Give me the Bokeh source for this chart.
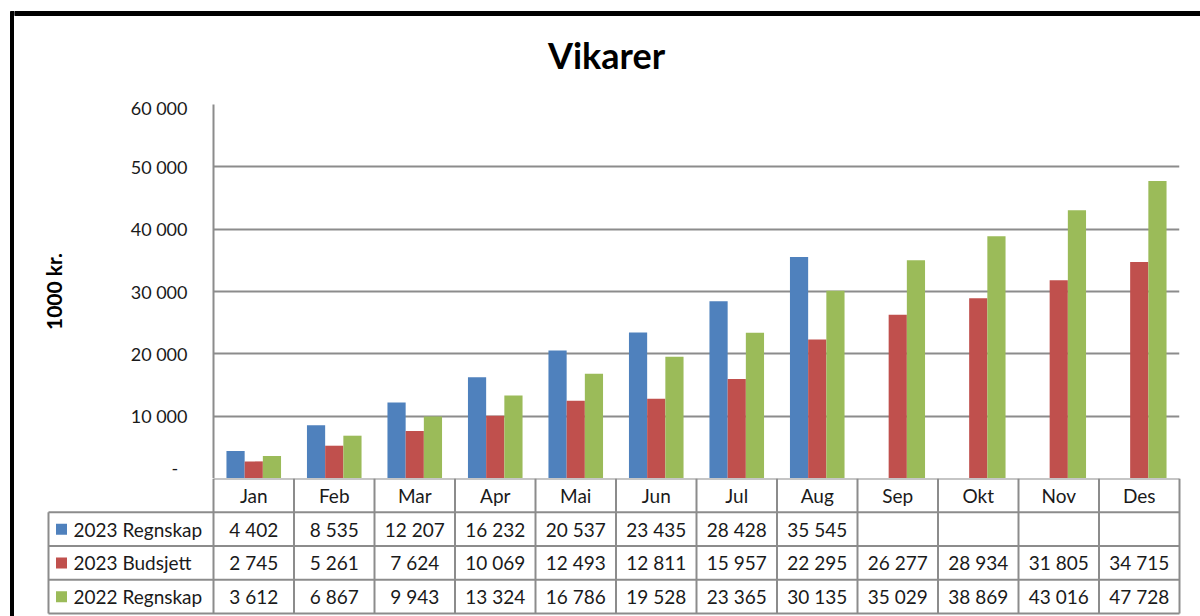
from bokeh.plotting import figure
from bokeh.layouts import row, column
from bokeh.models import Range1d, FixedTicker
from bokeh.core.properties import value
from bokeh.embed import file_html
from bokeh.resources import INLINE

# ---------------- data ----------------
title_text = "Vikarer"
y_axis_title = "1000 kr."
months = ["Jan", "Feb", "Mar", "Apr", "Mai", "Jun", "Jul", "Aug", "Sep", "Okt", "Nov", "Des"]
series_names = ["2023 Regnskap", "2023 Budsjett", "2022 Regnskap"]
regnskap_2023 = [4402, 8535, 12207, 16232, 20537, 23435, 28428, 35545, None, None, None, None]
budsjett_2023 = [2745, 5261, 7624, 10069, 12493, 12811, 15957, 22295, 26277, 28934, 31805, 34715]
regnskap_2022 = [3612, 6867, 9943, 13324, 16786, 19528, 23365, 30135, 35029, 38869, 43016, 47728]
y_ticks = [0, 10000, 20000, 30000, 40000, 50000, 60000]
y_tick_labels = ["-\u00a0\u00a0", "10 000", "20 000", "30 000", "40 000", "50 000", "60 000"]
colors = ["#4F81BD", "#C0504D", "#9BBB59"]

# ---------------- layout constants (pixels) ----------------
FONT = "Lato"
GRID = "#8c8c8c"
TOTAL_W = 1200
TOTAL_H = 616
STRIP_W = 14
MAIN_W = TOTAL_W - STRIP_W          # 1186
TITLE_H = 96
CHART_H = 382
TABLE_H = TOTAL_H - TITLE_H - CHART_H  # 138
CH_LEFT = 199
CH_RIGHT = 21
CH_TOP = 8
FRAME_W = MAIN_W - CH_LEFT - CH_RIGHT  # 966
N = len(months)
UNIT = FRAME_W / N
BAR_W = 0.226
ROW_PX = 33.75
LEG_LEFT_PX = 34      # legend column left edge, relative to main column
LEG_SQ_PX = 47
LEG_TXT_PX = 59
TXT = "19px"


def px_to_cat(px):
    """main-column pixel -> category units"""
    return (px - CH_LEFT) / UNIT


def no_align(fig):
    if "frame_align" in fig.properties():
        fig.frame_align = False
    return fig


# ---------------- left border strip ----------------
strip = figure(width=STRIP_W, height=TOTAL_H, output_backend="svg", toolbar_location=None,
               x_axis_location=None, y_axis_location=None, min_border=0,
               x_range=Range1d(0, STRIP_W), y_range=Range1d(TOTAL_H, 0))
no_align(strip)
strip.outline_line_color = None
strip.grid.visible = False
strip.quad(left=[10], right=[STRIP_W], top=[11], bottom=[TOTAL_H], color="black")

# ---------------- title ----------------
pt = figure(width=MAIN_W, height=TITLE_H, output_backend="svg", toolbar_location=None,
            x_axis_location=None, y_axis_location=None, min_border=0,
            x_range=Range1d(0, MAIN_W), y_range=Range1d(TITLE_H, 0))
no_align(pt)
pt.outline_line_color = None
pt.grid.visible = False
pt.quad(left=[0], right=[MAIN_W], top=[11], bottom=[15], color="black")
pt.text(x=[592], y=[54], text=[title_text], text_font=value(FONT), text_font_size="36px",
        text_font_style="bold", text_align="center", text_baseline="middle", text_color="black")

# ---------------- chart ----------------
p = figure(width=MAIN_W, height=CHART_H, output_backend="svg", toolbar_location=None,
           x_axis_location=None, y_axis_location="left",
           min_border_left=CH_LEFT, min_border_right=CH_RIGHT, min_border_top=CH_TOP,
           min_border_bottom=0,
           x_range=Range1d(0, N), y_range=Range1d(0, 60000))
no_align(p)
p.outline_line_color = None
p.xgrid.visible = False
p.ygrid.grid_line_color = GRID
p.ygrid.grid_line_width = 2
p.ygrid.ticker = FixedTicker(ticks=y_ticks)

yax = p.yaxis[0]
yax.ticker = FixedTicker(ticks=y_ticks)
yax.major_label_overrides = {t: l for t, l in zip(y_ticks, y_tick_labels)}
yax.major_label_text_font = FONT
yax.major_label_text_font_size = "18px"
yax.major_label_text_color = "#1a1a1a"
yax.major_tick_line_color = None
yax.minor_tick_line_color = None
yax.major_tick_out = 0
yax.major_tick_in = 0
yax.major_label_standoff = 26
yax.axis_line_color = GRID
yax.axis_line_width = 2
yax.axis_label = y_axis_title
yax.axis_label_text_font = FONT
yax.axis_label_text_font_size = "21px"
yax.axis_label_text_font_style = "bold"
yax.axis_label_text_color = "black"
yax.axis_label_standoff = 62

all_series = [regnskap_2023, budsjett_2023, regnskap_2022]
offsets = [-1, 0, 1]
for vals, col, off in zip(all_series, colors, offsets):
    xs = [i + 0.5 + off * BAR_W for i, v in enumerate(vals) if v is not None]
    tops = [v for v in vals if v is not None]
    p.vbar(x=xs, top=tops, bottom=0, width=BAR_W, fill_color=col, line_color=None)

# ---------------- data table ----------------
x_start = px_to_cat(0)
x_end = px_to_cat(MAIN_W)
tb = figure(width=MAIN_W, height=TABLE_H, output_backend="svg", toolbar_location=None,
            x_axis_location=None, y_axis_location=None, min_border=0,
            x_range=Range1d(x_start, x_end), y_range=Range1d(TABLE_H / ROW_PX, 0))
no_align(tb)
tb.outline_line_color = None
tb.grid.visible = False
leg_left = px_to_cat(LEG_LEFT_PX)

# horizontal lines
hx0 = [0] + [leg_left] * 4
hx1 = [N] * 5
hy = [0, 1, 2, 3, 4]
tb.segment(x0=hx0, y0=hy, x1=hx1, y1=hy, line_color=GRID, line_width=2)
# vertical lines
vx = list(range(N + 1)) + [leg_left]
vy0 = [0] * (N + 1) + [1]
vy1 = [4] * (N + 2)
tb.segment(x0=vx, y0=vy0, x1=vx, y1=vy1, line_color=GRID, line_width=2)

# header
tb.text(x=[i + 0.5 for i in range(N)], y=[0.5] * N, text=months, text_font=value(FONT),
        text_font_size=TXT, text_align="center", text_baseline="middle", text_color="#1a1a1a")

# legend + values
for r, (name, vals, col) in enumerate(zip(series_names, all_series, colors)):
    yrow = r + 1.5
    tb.scatter(x=[px_to_cat(LEG_SQ_PX)], y=[yrow], marker="square", size=11,
               fill_color=col, line_color=None)
    tb.text(x=[px_to_cat(LEG_TXT_PX)], y=[yrow], text=[name], text_font=value(FONT),
            text_font_size=TXT, text_align="left", text_baseline="middle", text_color="#1a1a1a")
    xs = [i + 0.5 for i, v in enumerate(vals) if v is not None]
    labels = ["{:,}".format(v).replace(",", " ") for v in vals if v is not None]
    tb.text(x=xs, y=[yrow] * len(xs), text=labels, text_font=value(FONT),
            text_font_size=TXT, text_align="center", text_baseline="middle", text_color="#1a1a1a")

layout = row(strip, column(pt, p, tb))
open("out.html", "w").write(file_html(layout, INLINE))
